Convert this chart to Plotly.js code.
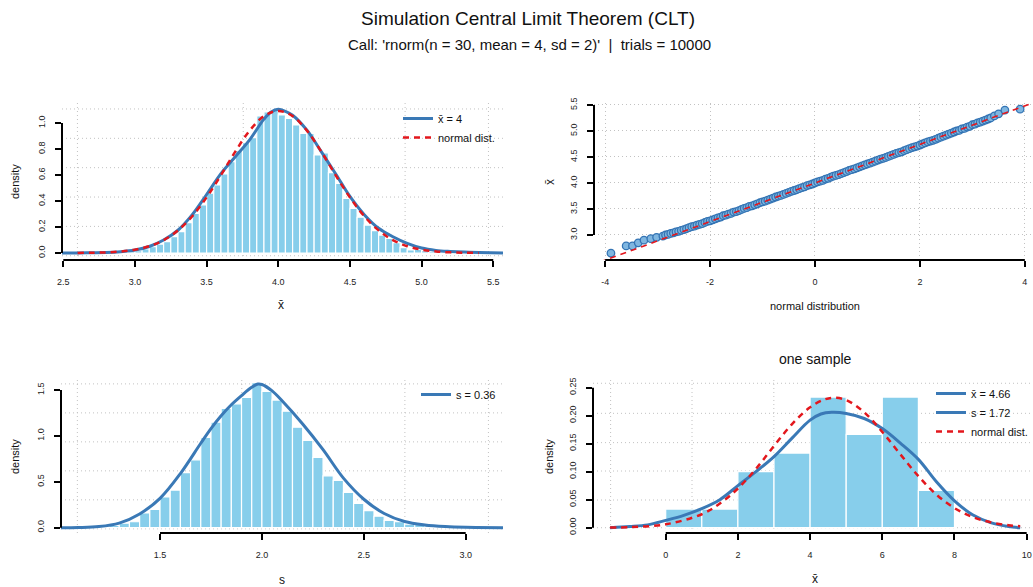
<!DOCTYPE html>
<html><head><meta charset="utf-8">
<script src="https://cdn.plot.ly/plotly-3.0.1.min.js"></script>
<style>html,body{margin:0;padding:0;background:#fff}#chart{width:1033px;height:587px}</style>
</head><body><div id="chart"></div>
<script>
// ---------------- data ----------------
// top-left: distribution of the sample means (histogram, kde, normal)
const meanBinMids = [2.675,2.725,2.775,2.825,2.875,2.925,2.975,3.025,3.075,3.125,3.175,3.225,3.275,3.325,3.375,3.425,3.475,3.525,3.575,3.625,3.675,3.725,3.775,3.825,3.875,3.925,3.975,4.025,4.075,4.125,4.175,4.225,4.275,4.325,4.375,4.425,4.475,4.525,4.575,4.625,4.675,4.725,4.775,4.825,4.875,4.925,4.975,5.025,5.075,5.125,5.175,5.225,5.275,5.325,5.375,5.425];
const meanDensity = [0.002,0,0.002,0.004,0.006,0.010,0.014,0.018,0.031,0.049,0.069,0.087,0.126,0.164,0.233,0.305,0.370,0.460,0.523,0.608,0.703,0.787,0.849,0.887,1.054,1.085,1.105,1.062,1.035,0.985,0.920,0.920,0.754,0.770,0.618,0.536,0.420,0.344,0.275,0.215,0.172,0.138,0.113,0.080,0.041,0.023,0.028,0.018,0.012,0.008,0.006,0.004,0.002,0.002,0,0.002];
const meanKdeX = [2.49,2.6,2.7,2.8,2.9,3.0,3.1,3.2,3.3,3.4,3.5,3.6,3.7,3.8,3.9,3.95,4.0,4.05,4.1,4.2,4.3,4.4,4.5,4.6,4.7,4.8,4.9,5.0,5.1,5.2,5.3,5.4,5.57];
const meanKdeY = [0.0,0.001,0.002,0.004,0.010,0.023,0.050,0.100,0.175,0.295,0.450,0.610,0.740,0.870,1.030,1.085,1.105,1.090,1.060,0.945,0.780,0.610,0.435,0.295,0.190,0.125,0.074,0.038,0.020,0.012,0.007,0.004,0.0];
const meanNormX = [2.6,2.7,2.8,2.9,3.0,3.1,3.2,3.3,3.4,3.5,3.6,3.7,3.8,3.9,4.0,4.1,4.2,4.3,4.4,4.5,4.6,4.7,4.8,4.9,5.0,5.1,5.2,5.3,5.4];
const meanNormY = [0.0007,0.0019,0.0049,0.0117,0.0256,0.052,0.099,0.174,0.283,0.428,0.599,0.780,0.941,1.053,1.093,1.053,0.941,0.780,0.599,0.428,0.283,0.174,0.099,0.052,0.0256,0.0117,0.0049,0.0019,0.0007];

// top-right: normal Q-Q plot of the sample means
const qqTheoretical = [-3.89,-3.60,-3.48,-3.37,-3.26,-3.13,-3.02,
  -2.90,-2.85,-2.80,-2.75,-2.70,-2.65,-2.60,-2.55,-2.50,-2.45,
  -2.40,-2.35,-2.30,-2.25,-2.20,-2.15,-2.10,-2.05,-2.00,-1.95,
  -1.90,-1.85,-1.80,-1.75,-1.70,-1.65,-1.60,-1.55,-1.50,-1.45,
  -1.40,-1.35,-1.30,-1.25,-1.20,-1.15,-1.10,-1.05,-1.00,-0.95,
  -0.90,-0.85,-0.80,-0.75,-0.70,-0.65,-0.60,-0.55,-0.50,-0.45,
  -0.40,-0.35,-0.30,-0.25,-0.20,-0.15,-0.10,-0.05,0.00,0.05,
  0.10,0.15,0.20,0.25,0.30,0.35,0.40,0.45,0.50,0.55,
  0.60,0.65,0.70,0.75,0.80,0.85,0.90,0.95,1.00,1.05,
  1.10,1.15,1.20,1.25,1.30,1.35,1.40,1.45,1.50,1.55,
  1.60,1.65,1.70,1.75,1.80,1.85,1.90,1.95,2.00,2.05,
  2.10,2.15,2.20,2.25,2.30,2.35,2.40,2.45,2.50,2.55,
  2.60,2.65,2.70,2.75,2.80,2.85,2.90,2.95,3.00,3.05,
  3.10,3.15,3.20,3.25,3.30,
  3.35,3.42,3.50,3.62,3.91];
const qqSample = [2.65,2.79,2.79,2.85,2.90,2.93,2.955,
  2.98,3.00,3.01,3.03,3.04,3.06,3.07,3.09,3.105,3.12,
  3.14,3.16,3.17,3.19,3.205,3.22,3.24,3.26,3.27,3.29,
  3.31,3.33,3.345,3.37,3.38,3.40,3.415,3.44,3.45,3.47,
  3.49,3.51,3.525,3.55,3.56,3.58,3.60,3.62,3.635,3.65,
  3.67,3.69,3.71,3.73,3.745,3.76,3.78,3.80,3.82,3.84,
  3.855,3.87,3.89,3.91,3.925,3.95,3.965,3.98,4.00,4.02,
  4.035,4.05,4.075,4.09,4.11,4.13,4.145,4.16,4.18,4.20,
  4.22,4.24,4.255,4.27,4.29,4.31,4.33,4.35,4.365,4.38,
  4.40,4.42,4.44,4.46,4.475,4.49,4.51,4.53,4.55,4.57,
  4.585,4.60,4.62,4.64,4.66,4.68,4.695,4.71,4.73,4.75,
  4.77,4.79,4.805,4.82,4.84,4.86,4.88,4.90,4.92,4.94,
  4.96,4.98,5.00,5.01,5.04,5.05,5.075,5.09,5.12,5.13,
  5.155,5.17,5.19,5.21,5.23,
  5.25,5.29,5.33,5.40,5.42];
const qqLineX = [-4.3, 4.3];
const qqLineY = [2.405, 5.595];

// bottom-left: distribution of the sample standard deviations
const sdBinMids = [1.125,1.175,1.225,1.275,1.325,1.375,1.425,1.475,1.525,1.575,1.625,1.675,1.725,1.775,1.825,1.875,1.925,1.975,2.025,2.075,2.125,2.175,2.225,2.275,2.325,2.375,2.425,2.475,2.525,2.575,2.625,2.675,2.725,2.775,2.825,2.875,2.925,2.975,3.025,3.075,3.125];
const sdDensity = [0.002,0.004,0.010,0.025,0.050,0.065,0.160,0.200,0.335,0.410,0.600,0.740,0.985,1.150,1.300,1.350,1.420,1.580,1.485,1.390,1.270,1.095,0.950,0.765,0.565,0.515,0.385,0.265,0.185,0.125,0.080,0.066,0.040,0.035,0.025,0.012,0.006,0.004,0.002,0,0.002];
const sdKdeX = [1.014,1.1,1.2,1.3,1.4,1.5,1.6,1.7,1.75,1.8,1.85,1.9,1.95,1.98,2.0,2.05,2.1,2.2,2.3,2.4,2.5,2.6,2.7,2.8,2.9,3.0,3.183];
const sdKdeY = [0.0,0.002,0.012,0.050,0.150,0.320,0.590,0.920,1.080,1.220,1.340,1.440,1.530,1.565,1.560,1.490,1.380,1.130,0.850,0.540,0.310,0.155,0.068,0.030,0.012,0.004,0.0];

// bottom-right: one sample
const sampleBinMids = [0.5,1.5,2.5,3.5,4.5,5.5,6.5,7.5];
const sampleDensity = [0.0333,0.0333,0.1000,0.1333,0.2333,0.1667,0.2333,0.0667];
const sampleKdeX = [-1.54,-1,-0.5,0,0.5,1,1.5,2,2.5,3,3.5,4,4.3,4.6,5,5.5,6,6.5,7,7.5,8,8.5,9,9.5,9.82];
const sampleKdeY = [0.0,0.002,0.005,0.013,0.022,0.034,0.050,0.075,0.100,0.127,0.160,0.192,0.203,0.206,0.204,0.195,0.177,0.151,0.122,0.082,0.048,0.023,0.009,0.002,0.0];
const sampleNormX = [-1.54,-1,0,1,1.5,2,2.5,3,3.5,4,4.4,4.66,5,5.5,6,6.5,7,7.5,8,8.5,9,9.5,9.82];
const sampleNormY = [0.0004,0.001,0.006,0.024,0.043,0.070,0.105,0.146,0.185,0.215,0.229,0.232,0.228,0.206,0.171,0.131,0.092,0.059,0.035,0.019,0.0096,0.0044,0.0026];

// tick values / labels
const meanXTicks = [2.5,3.0,3.5,4.0,4.5,5.0,5.5];
const meanYTicks = [0,0.2,0.4,0.6,0.8,1.0];
const qqXTicks = [-4,-2,0,2,4];
const qqYTicks = [3.0,3.5,4.0,4.5,5.0,5.5];
const sdXTicks = [1.5,2.0,2.5,3.0];
const sdYTicks = [0,0.5,1.0,1.5];
const sampleXTicks = [0,2,4,6,8,10];
const sampleYTicks = [0,0.05,0.10,0.15,0.20,0.25];

// legend labels
const meanLegend = ['x\u0304 = 4', 'normal dist.'];
const sdLegend = ['s = 0.36'];
const sampleLegend = ['x\u0304 = 4.66', 's = 1.72', 'normal dist.'];

// ---------------- styling / layout ----------------
const W = 1033, H = 587;
const FONT = 'Liberation Sans, Arial, Helvetica, sans-serif';
const BAR = '#87CEEB', BLUE = '#3a79b6', RED = '#e3171d';
const GRID = '#c2c2c2', GRIDDASH = '1px,3px';
const px = v => v / W, py = v => 1 - v / H;

function axis(dom, range, tickvals, digits, isY, anchor) {
  return {
    domain: dom, range: range, tickvals: tickvals, anchor: anchor,
    ticktext: tickvals.map(v => v.toFixed(digits)),
    showgrid: false, zeroline: false, showline: false,
    ticks: 'outside', ticklen: 6, tickwidth: 2, tickcolor: '#000',
    tickfont: {size: 9, color: '#222', family: FONT},
    ticklabelstandoff: isY ? 6 : 7,
    tickangle: isY ? -90 : 0,
    automargin: false, fixedrange: true
  };
}

const legendBase = {xanchor: 'left', yanchor: 'top', bgcolor: 'rgba(0,0,0,0)', font: {size: 11, family: FONT, color: '#111'}, tracegroupgap: 0};
const layout = {
  width: W, height: H, margin: {l: 0, r: 0, t: 0, b: 0},
  paper_bgcolor: '#fff', plot_bgcolor: '#fff',
  font: {family: FONT, color: '#111'},
  showlegend: true, barmode: 'overlay',
  xaxis:  axis([px(62), px(503)], [2.491, 5.568], meanXTicks, 1, false, 'y'),
  yaxis:  axis([py(260), py(103)], [-0.0538, 1.1538], meanYTicks, 1, true, 'x'),
  xaxis2: axis([px(594), 1], [-4.213, 4.156], qqXTicks, 0, false, 'y2'),
  yaxis2: axis([py(260), py(103)], [2.519, 5.538], qqYTicks, 1, true, 'x2'),
  xaxis3: axis([px(61), px(503)], [1.0142, 3.183], sdXTicks, 1, false, 'y3'),
  yaxis3: axis([py(533), py(378)], [-0.0577, 1.631], sdYTicks, 1, true, 'x3'),
  xaxis4: axis([px(593), 1], [-2.014, 10.175], sampleXTicks, 0, false, 'y4'),
  yaxis4: axis([py(533), py(378)], [-0.0095, 0.2673], sampleYTicks, 2, true, 'x4'),
  legend:  Object.assign({x: px(398), y: py(104)}, legendBase),
  legend2: Object.assign({x: px(416), y: py(380)}, legendBase),
  legend3: Object.assign({x: px(931), y: py(379)}, legendBase),
  shapes: [], annotations: []
};
// dotted grid on top-right at ticks
['xaxis2','yaxis2'].forEach(k => { Object.assign(layout[k], {showgrid: true, gridcolor: GRID, griddash: GRIDDASH, gridwidth: 1}); });

// dotted grids (fixed fractions of the plot region) for the other panels
function grid(xa, ya, xf, yf) {
  xf.forEach(f => layout.shapes.push({type: 'line', layer: 'below', xref: xa + ' domain', yref: ya + ' domain', x0: f, x1: f, y0: 0, y1: 1, line: {color: GRID, width: 1, dash: GRIDDASH}}));
  yf.forEach(f => layout.shapes.push({type: 'line', layer: 'below', xref: xa + ' domain', yref: ya + ' domain', x0: 0, x1: 1, y0: f, y1: f, line: {color: GRID, width: 1, dash: GRIDDASH}}));
}
const gy = [0.962, 0.775, 0.588, 0.401, 0.214, 0.027];
grid('x', 'y', [0.035, 0.411, 0.778, 0.967], gy);
grid('x3', 'y3', [0.037, 0.409, 0.778, 0.967], gy);
grid('x4', 'y4', [0.040, 0.225, 0.411], [0.966, 0.772, 0.583, 0.400, 0.213, 0.034]);

// R-style axis lines spanning first..last tick
function axLines(xa, ya, xt, yt) {
  layout.shapes.push({type: 'line', layer: 'above', xref: xa, yref: ya + ' domain', x0: xt[0], x1: xt[xt.length - 1], y0: 0, y1: 0, line: {color: '#000', width: 2}});
  layout.shapes.push({type: 'line', layer: 'above', xref: xa + ' domain', yref: ya, x0: 0, x1: 0, y0: yt[0], y1: yt[yt.length - 1], line: {color: '#000', width: 2}});
}
axLines('x', 'y', meanXTicks, meanYTicks);
axLines('x2', 'y2', qqXTicks, qqYTicks);
axLines('x3', 'y3', sdXTicks, sdYTicks);
axLines('x4', 'y4', sampleXTicks, sampleYTicks);

function txt(text, x, y, size, rot) {
  layout.annotations.push({text: text, x: px(x), y: py(y), xref: 'paper', yref: 'paper', showarrow: false, xanchor: 'center', yanchor: 'middle', textangle: rot || 0, font: {size: size, family: FONT, color: '#111'}});
}
txt('Simulation Central Limit Theorem (CLT)', 528, 18, 19);
txt("Call: 'rnorm(n = 30, mean = 4, sd = 2)' \u00a0|\u00a0 trials = 10000", 529, 44, 15);
txt('one sample', 815, 359, 14);
txt('density', 15, 182, 11, -90);
txt('x\u0304', 281, 305, 12);
txt('x\u0304', 550, 182, 12, -90);
txt('normal distribution', 815, 306, 11);
txt('density', 15, 457, 11, -90);
txt('s', 282, 580, 12);
txt('density', 549, 457, 11, -90);
txt('x\u0304', 815, 579, 12);

// ---------------- traces ----------------
const barStyle = {color: BAR, line: {color: '#ffffff', width: 1.2}};
const traces = [
  // top-left
  {type: 'bar', x: meanBinMids, y: meanDensity, width: 0.05, marker: barStyle, xaxis: 'x', yaxis: 'y', showlegend: false},
  {type: 'scatter', mode: 'lines', x: meanKdeX, y: meanKdeY, line: {color: BLUE, width: 3, shape: 'spline'}, xaxis: 'x', yaxis: 'y', name: meanLegend[0], legend: 'legend'},
  {type: 'scatter', mode: 'lines', x: meanNormX, y: meanNormY, line: {color: RED, width: 2.5, dash: '6px,5px', shape: 'spline'}, xaxis: 'x', yaxis: 'y', name: meanLegend[1], legend: 'legend'},
  // top-right
  {type: 'scatter', mode: 'markers', x: qqTheoretical, y: qqSample, marker: {size: 7.5, color: '#7fb6e0', line: {color: '#3474b4', width: 1.3}}, xaxis: 'x2', yaxis: 'y2', showlegend: false},
  {type: 'scatter', mode: 'lines', x: qqLineX, y: qqLineY, line: {color: RED, width: 1.6, dash: '6px,5px'}, xaxis: 'x2', yaxis: 'y2', showlegend: false},
  // bottom-left
  {type: 'bar', x: sdBinMids, y: sdDensity, width: 0.05, marker: barStyle, xaxis: 'x3', yaxis: 'y3', showlegend: false},
  {type: 'scatter', mode: 'lines', x: sdKdeX, y: sdKdeY, line: {color: BLUE, width: 3, shape: 'spline'}, xaxis: 'x3', yaxis: 'y3', name: sdLegend[0], legend: 'legend2'},
  // bottom-right
  {type: 'bar', x: sampleBinMids, y: sampleDensity, width: 1, marker: barStyle, xaxis: 'x4', yaxis: 'y4', showlegend: false},
  {type: 'scatter', mode: 'lines', x: sampleKdeX, y: sampleKdeY, line: {color: BLUE, width: 3, shape: 'spline'}, xaxis: 'x4', yaxis: 'y4', name: sampleLegend[0], legend: 'legend3'},
  {type: 'scatter', mode: 'lines', x: [null], y: [null], line: {color: BLUE, width: 3}, xaxis: 'x4', yaxis: 'y4', name: sampleLegend[1], legend: 'legend3'},
  {type: 'scatter', mode: 'lines', x: sampleNormX, y: sampleNormY, line: {color: RED, width: 2.5, dash: '6px,5px', shape: 'spline'}, xaxis: 'x4', yaxis: 'y4', name: sampleLegend[2], legend: 'legend3'}
];

Plotly.newPlot('chart', traces, layout, {staticPlot: true, displayModeBar: false});
</script>
</body></html>
